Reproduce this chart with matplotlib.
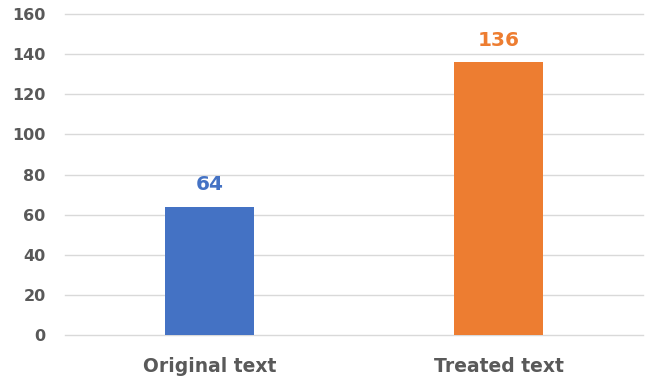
import matplotlib.pyplot as plt

# word counts for the two versions of the text
labels = ['Original text', 'Treated text']
counts = [64, 136]
colors = ['#4472C4', '#ED7D31']

plt.rcParams['font.family'] = ['DejaVu Sans']

fig = plt.figure(figsize=(6.49, 3.84), dpi=100)
ax = fig.add_axes([0.1002, 0.1276, 0.8906, 0.8359])

x = range(len(labels))
bars = ax.bar(x, counts, width=0.31, color=colors, zorder=3)

# value labels above each bar, same colour as the bar
for b, v, c in zip(bars, counts, colors):
    ax.annotate(str(v), (b.get_x() + b.get_width() / 2, v),
                xytext=(0, 9), textcoords='offset points',
                ha='center', va='bottom', fontsize=14.5, fontweight='bold', color=c)

ax.set_xlim(-0.5, 1.5)
ax.set_ylim(0, 160)
ax.set_yticks(range(0, 161, 20))
ax.set_xticks(list(x))
ax.set_xticklabels(labels)

ax.grid(axis='y', color='#D9D9D9', linewidth=1, zorder=0)
for g in ax.get_ygridlines():
    g.set_clip_on(False)
for s in ax.spines.values():
    s.set_visible(False)
ax.tick_params(axis='y', length=0, pad=14, labelsize=11.5, labelcolor='#595959')
ax.tick_params(axis='x', length=0, pad=16, labelsize=13.5, labelcolor='#595959')
for t in ax.get_yticklabels() + ax.get_xticklabels():
    t.set_fontweight('bold')

fig.savefig('out.png', dpi=100)
